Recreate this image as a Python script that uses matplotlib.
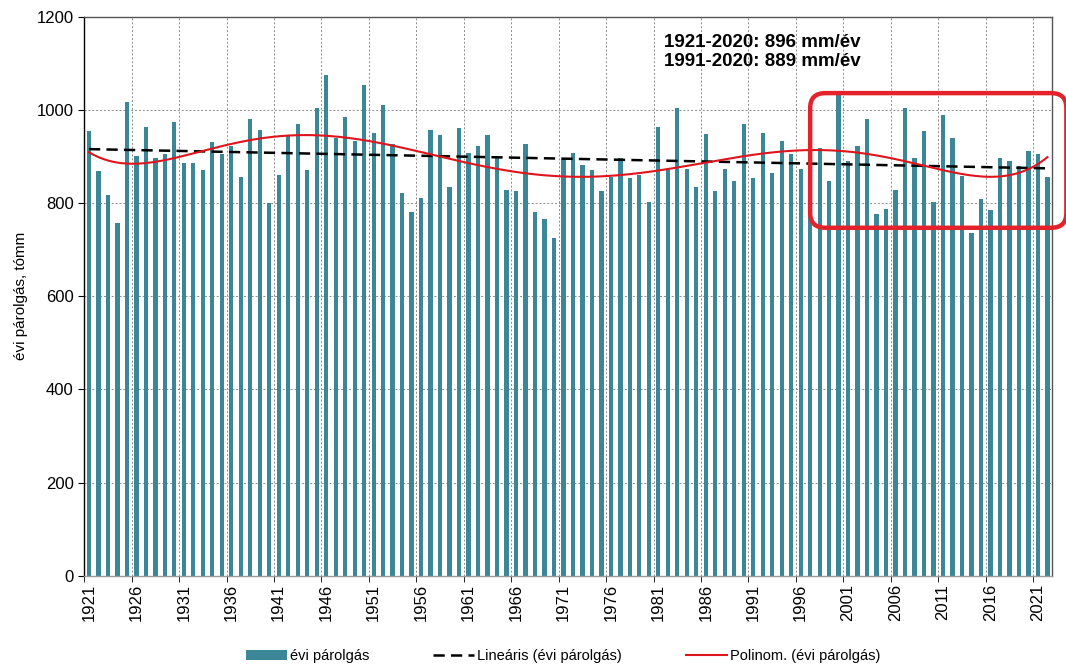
import matplotlib
matplotlib.use("Agg")
import matplotlib.pyplot as plt
import numpy as np
from matplotlib.patches import FancyBboxPatch

plt.rcParams["font.family"] = ["Liberation Sans", "DejaVu Sans"]

# évi párolgás, mm (1921-2022)
years = list(range(1921, 2023))
evap = [
    955, 868, 818, 758, 1016, 902, 964, 896, 905, 974,   # 1921-1930
    885, 885, 870, 932, 906, 923, 856, 981, 957, 801,    # 1931-1940
    860, 946, 969, 870, 1005, 1074, 940, 984, 934, 1054, # 1941-1950
    950, 1011, 927, 822, 781, 811, 957, 946, 834, 962,   # 1951-1960
    907, 923, 946, 902, 829, 825, 926, 781, 766, 724,    # 1961-1970
    895, 907, 882, 871, 825, 855, 897, 854, 861, 803,    # 1971-1980
    964, 871, 1003, 873, 835, 948, 825, 873, 847, 969,   # 1981-1990
    854, 950, 864, 934, 905, 873, 950, 918, 848, 1031,   # 1991-2000
    890, 922, 981, 777, 788, 829, 1005, 897, 955, 802,   # 2001-2010
    989, 939, 859, 736, 808, 786, 897, 890, 879, 912,    # 2011-2020
    905, 856,                                            # 2021-2022
]
tick_years = list(range(1921, 2023, 5))
y_ticks = [0, 200, 400, 600, 800, 1000, 1200]
note_lines = ["1921-2020: 896 mm/év", "1991-2020: 889 mm/év"]

BAR = "#3b8797"


def main() -> None:
    x = np.array(years, dtype=float)
    y = np.array(evap, dtype=float)

    lin = np.polynomial.Polynomial.fit(x, y, 1)
    poly = np.polynomial.Polynomial.fit(x, y, 6)
    xs = np.linspace(x[0], x[-1], 400)

    fig = plt.figure(figsize=(10.66, 6.68), dpi=100)
    ax = fig.add_axes([0.079, 0.138, 0.908, 0.837])

    bars = ax.bar(x, y, width=0.45, color=BAR, zorder=2)
    (l_lin,) = ax.plot(xs, lin(xs), color="black", lw=1.8, dashes=(4.5, 2.5),
                       zorder=3)
    (l_poly,) = ax.plot(xs, poly(xs), color="#e0141c", lw=1.5, zorder=4)

    ax.set_xlim(x[0] - 0.5, x[-1] + 0.5)
    ax.set_ylim(0, 1200)
    ax.set_yticks(y_ticks)

    # labels centred on the bars, tick marks + grid on the category boundaries
    ax.set_xticks(tick_years)
    ax.set_xticklabels([str(t) for t in tick_years], rotation=90)
    ax.set_xticks([t - 0.5 for t in tick_years], minor=True)
    ax.tick_params(axis="x", which="major", labelsize=12, length=0, pad=6)
    ax.tick_params(axis="x", which="minor", length=4)
    ax.tick_params(axis="y", labelsize=12, length=4)
    ax.grid(False)
    ax.grid(True, axis="x", which="minor", color="#8c8c8c",
            linestyle=(0, (2, 2)), lw=0.7, zorder=0)
    ax.grid(True, axis="y", which="major", color="#8c8c8c",
            linestyle=(0, (2, 2)), lw=0.7, zorder=0)
    for s in ax.spines.values():
        s.set_color("#555555")
        s.set_linewidth(1.0)
    ax.spines["left"].set_color("black")
    ax.spines["bottom"].set_color("#999999")
    ax.set_ylabel("évi párolgás, tómm", fontsize=11, labelpad=6)

    # kiemelő keret az utolsó évtizedekre
    box = FancyBboxPatch((1997.0, 747), 27.0, 289,
                         boxstyle="round,pad=0,rounding_size=1.6",
                         mutation_aspect=20, fill=False, ec="#e5222a",
                         lw=3.2, clip_on=False, zorder=5)
    ax.add_patch(box)

    ax.text(1992.0, 1124, "\n".join(note_lines), ha="center", va="center",
            fontsize=13.5, fontweight="bold", linespacing=1.1, zorder=6)

    fig.legend([bars, l_lin, l_poly],
               ["évi párolgás", "Lineáris (évi párolgás)",
                "Polinom. (évi párolgás)"],
               loc="lower center", bbox_to_anchor=(0.528, -0.012), ncol=3,
               frameon=False, fontsize=10.5, handlelength=2.8,
               columnspacing=4.4, handletextpad=0.2)

    fig.savefig("out.png", dpi=100)


if __name__ == "__main__":
    main()
